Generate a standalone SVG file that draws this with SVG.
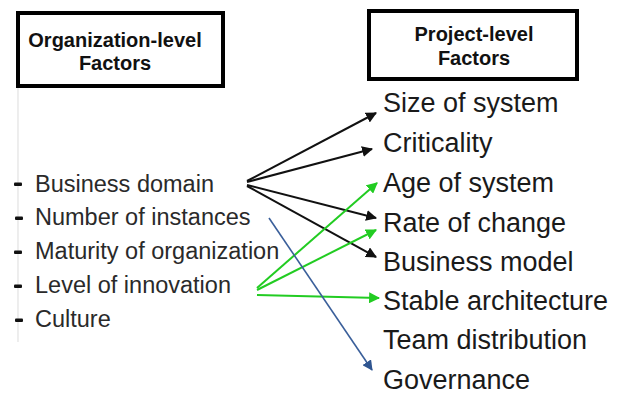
<svg xmlns="http://www.w3.org/2000/svg" width="624" height="394" viewBox="0 0 624 394">
  <style>
    .hdr { fill: #fff; stroke: #000; stroke-width: 4; }
    .hdr-t { font-family: "Liberation Sans", Arial, sans-serif; font-weight: bold; font-size: 20px; fill: #111; text-anchor: middle; }
    .org { font-family: "Liberation Sans", Arial, sans-serif; font-size: 23.5px; fill: #2a2a2a; }
    .prj { font-family: "Liberation Sans", Arial, sans-serif; font-size: 27px; fill: #1a1a1a; }
    .dash { fill: #111; }
    .blk { stroke: #111; stroke-width: 2; fill: none; marker-end: url(#ah-blk); }
    .grn { stroke: #22cc22; stroke-width: 2; fill: none; marker-end: url(#ah-grn); }
    .blu { stroke: #3a5f9a; stroke-width: 1.6; fill: none; marker-end: url(#ah-blu); }
  </style>
  <defs>
    <marker id="ah-blk" viewBox="0 0 10 10" refX="9" refY="5" markerWidth="5.5" markerHeight="5.5" orient="auto" markerUnits="strokeWidth">
      <path d="M0,0 L10,5 L0,10 z" fill="#111"/>
    </marker>
    <marker id="ah-grn" viewBox="0 0 10 10" refX="9" refY="5" markerWidth="5.5" markerHeight="5.5" orient="auto" markerUnits="strokeWidth">
      <path d="M0,0 L10,5 L0,10 z" fill="#22cc22"/>
    </marker>
    <marker id="ah-blu" viewBox="0 0 10 10" refX="9" refY="5" markerWidth="6.5" markerHeight="6.5" orient="auto" markerUnits="strokeWidth">
      <path d="M0,0 L10,5 L0,10 z" fill="#2f5590"/>
    </marker>
  </defs>

  <rect width="624" height="394" fill="#fff"/>

  <!-- faint guide line down the left list -->
  <line x1="18" y1="88" x2="18" y2="342" stroke="#e2e2e2" stroke-width="1.2"/>

  <g id="org-header">
    <rect class="hdr" x="18" y="13" width="205" height="73"/>
    <text class="hdr-t" x="115" y="47">Organization-level</text>
    <text class="hdr-t" x="115" y="70">Factors</text>
  </g>

  <g id="prj-header">
    <rect class="hdr" x="369" y="11" width="208" height="68"/>
    <text class="hdr-t" x="474" y="41">Project-level</text>
    <text class="hdr-t" x="474" y="65">Factors</text>
  </g>

  <g id="org-business-domain">
    <rect class="dash" x="14" y="182.5" width="8" height="3.5" rx="1"/>
    <text class="org" x="35" y="192">Business domain</text>
  </g>
  <g id="org-number-of-instances">
    <rect class="dash" x="15" y="216.5" width="8" height="3.5" rx="1"/>
    <text class="org" x="35" y="225">Number of instances</text>
  </g>
  <g id="org-maturity">
    <rect class="dash" x="14" y="250.5" width="8" height="3.5" rx="1"/>
    <text class="org" x="35" y="259">Maturity of organization</text>
  </g>
  <g id="org-level-of-innovation">
    <rect class="dash" x="14" y="284.5" width="8" height="3.5" rx="1"/>
    <text class="org" x="35" y="293">Level of innovation</text>
  </g>
  <g id="org-culture">
    <rect class="dash" x="15" y="318.5" width="8" height="3.5" rx="1"/>
    <text class="org" x="35" y="327">Culture</text>
  </g>

  <g id="prj-size"><text class="prj" x="383" y="112">Size of system</text></g>
  <g id="prj-criticality"><text class="prj" x="383" y="152">Criticality</text></g>
  <g id="prj-age"><text class="prj" x="383" y="192">Age of system</text></g>
  <g id="prj-rate"><text class="prj" x="383" y="232">Rate of change</text></g>
  <g id="prj-business-model"><text class="prj" x="383" y="271">Business model</text></g>
  <g id="prj-stable"><text class="prj" x="383" y="310">Stable architecture</text></g>
  <g id="prj-team"><text class="prj" x="383" y="349">Team distribution</text></g>
  <g id="prj-governance"><text class="prj" x="383" y="389">Governance</text></g>

  <g id="connectors">
    <line class="blk" x1="247" y1="181" x2="376" y2="113"/>
    <line class="blk" x1="247" y1="182" x2="372" y2="149"/>
    <line class="blk" x1="247" y1="185" x2="376" y2="218"/>
    <line class="blk" x1="247" y1="186" x2="376" y2="257"/>
    <line class="grn" x1="257" y1="288" x2="377" y2="183"/>
    <line class="grn" x1="257" y1="290" x2="376" y2="230"/>
    <line class="grn" x1="257" y1="295" x2="379" y2="298"/>
    <line class="blu" x1="269" y1="218" x2="372" y2="370"/>
  </g>
</svg>
